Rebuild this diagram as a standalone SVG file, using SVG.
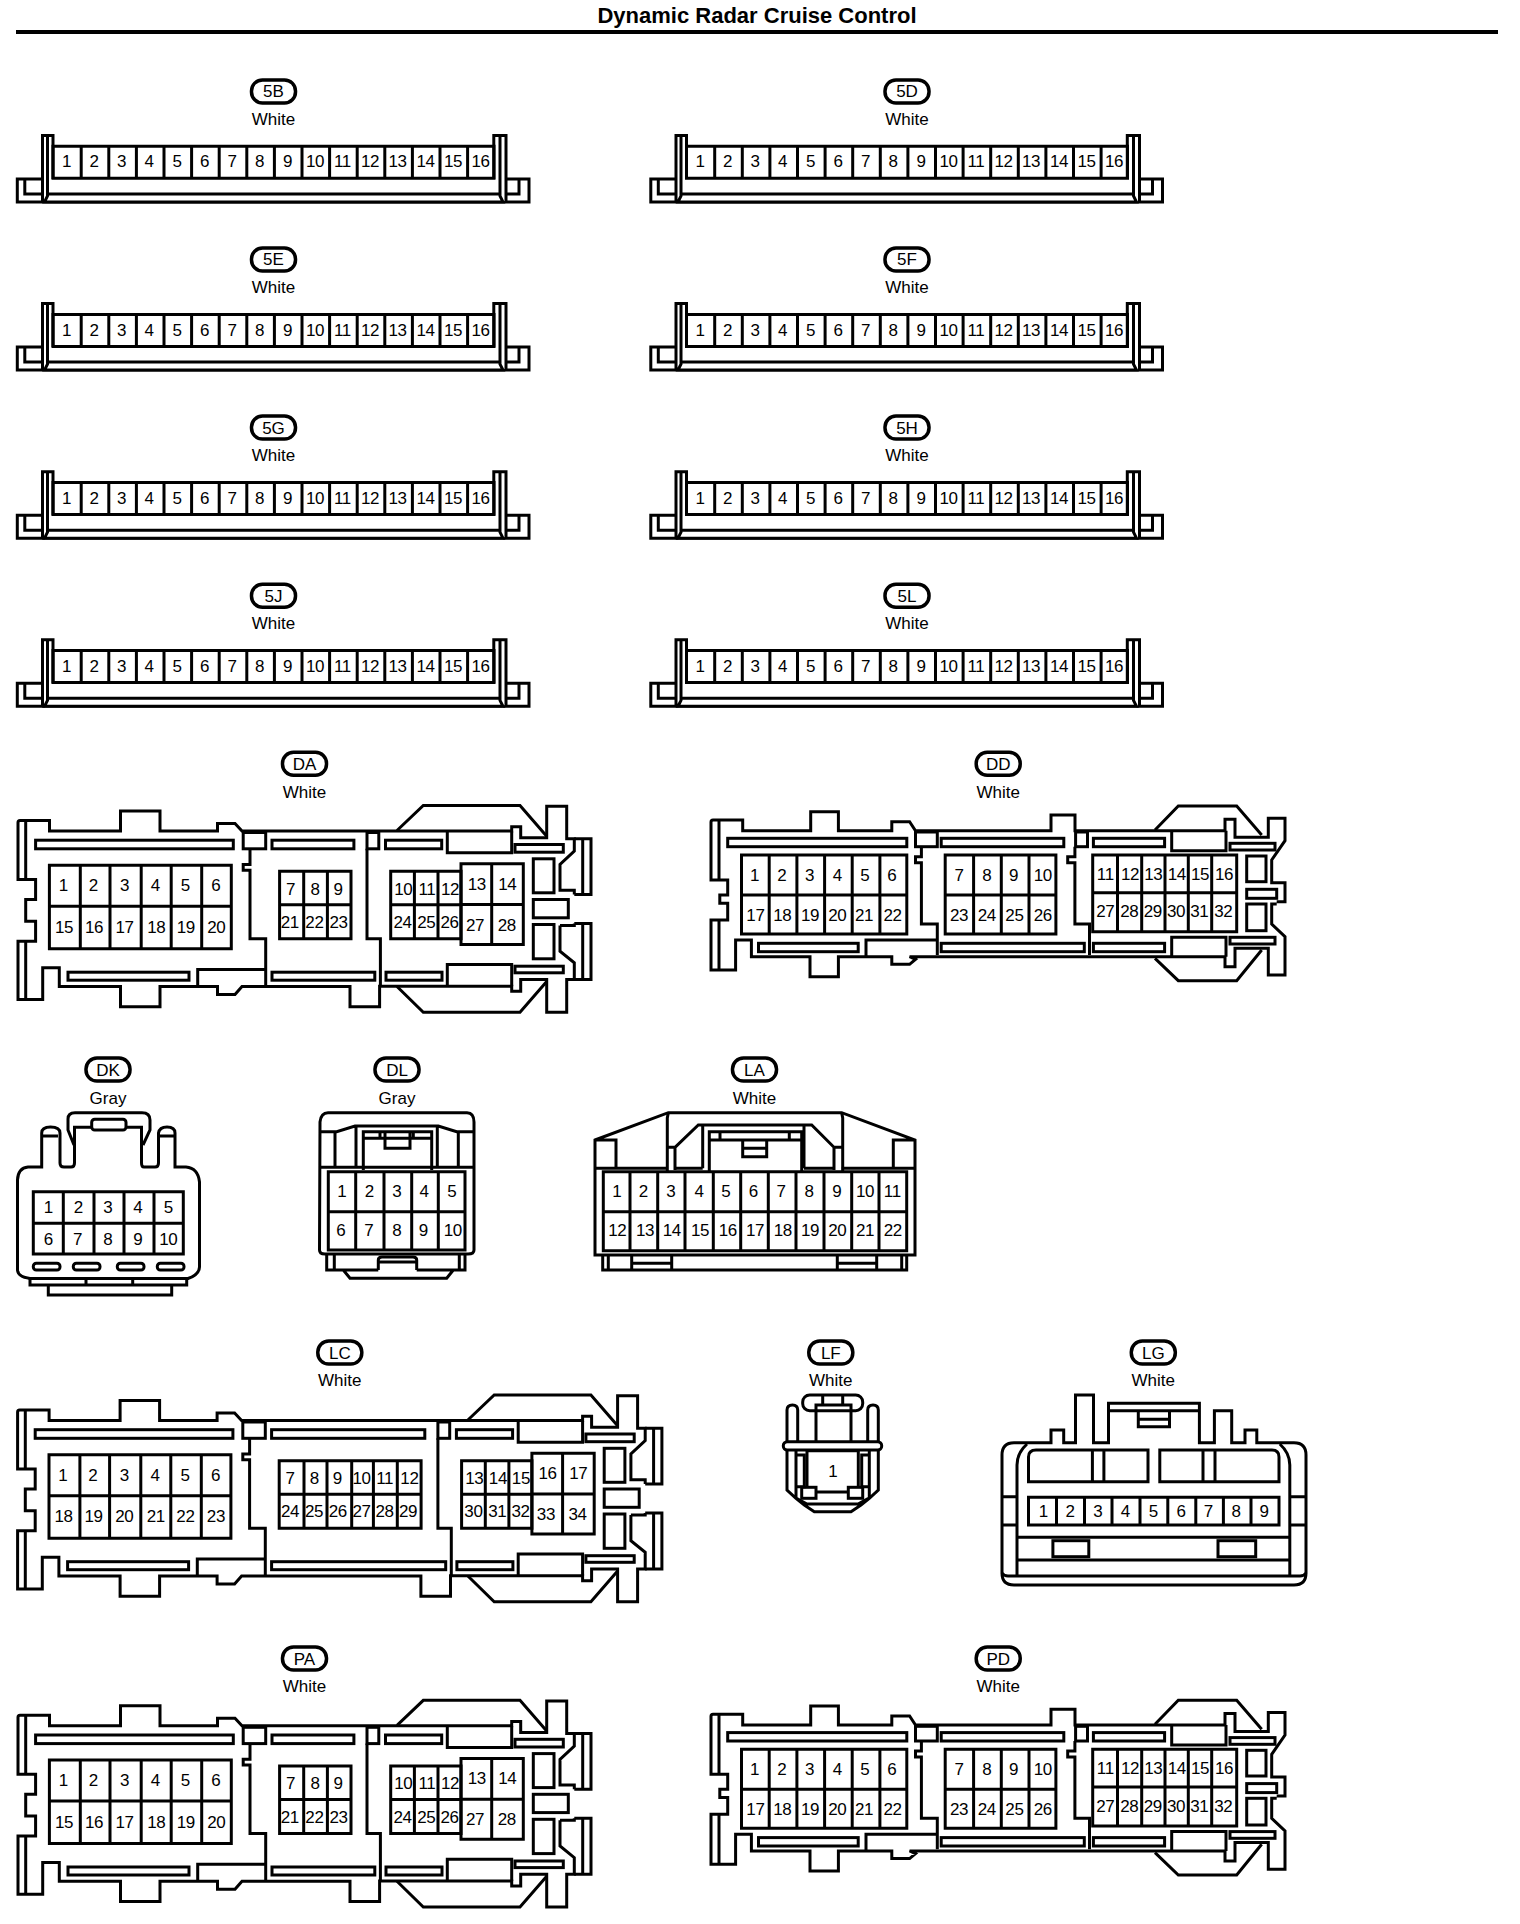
<svg xmlns="http://www.w3.org/2000/svg" width="1520" height="1924" viewBox="0 0 1520 1924">
<style>
text{font-family:"Liberation Sans",Arial,sans-serif;fill:#000}
.n{font-size:17px;letter-spacing:-.4px;text-anchor:middle}
.w{font-size:17px;text-anchor:middle}
.t{font-size:22px;font-weight:bold;text-anchor:middle}
.l{font-size:17px;text-anchor:middle}
.s{fill:none;stroke:#000;stroke-width:3}
.p{fill:#fff;stroke:#000;stroke-width:3.5}
</style>
<defs>
<rect id="pill" x="-22" y="-11.5" width="44" height="23" rx="11" class="p"/>
<g id="c16">
<path class="s" d="M17.3 178H529V201H17.3ZM24.8 178V193H42M46 193H500M505 193H519V178"/>
<path d="M42.5 134.5H53V178H493.8V134.5H506V198L503 202H45L42.5 198Z" fill="#fff" stroke="none"/>
<path class="s" d="M42.5 201V134.5H53V178M47.5 134.5V195L44.5 201H503L500 195V134.5M493.8 178V134.5H506V201M46 193H500"/>
<path class="s" d="M53 145.3H494V177.3H53ZM81.2 145V178M108.8 145V178M136.4 145V178M164 145V178M191.6 145V178M219.2 145V178M246.8 145V178M274.4 145V178M302 145V178M329.6 145V178M357.2 145V178M384.8 145V178M412.4 145V178M440 145V178M467.6 145V178"/>
</g>
<g id="da" class="s">
<path d="M18 823Q18 821 20 821H49.5V831.5H120.5V811.5H160V831.5H217.5V824H235L242 831.5H511.7V827.3H520.7V838.3H546.7V806.7H566.7V839.3H574.3V851.7L560 865V890.7H574.3V895M560 926H574.3V924M560 926V951.7L574.3 963.3V980H566.7V1012.7H546.7V980H520.7V991.7H511.7V986.7H379.6V1007.3H350V987H242L235 995H217.5V987H160V1007.3H120.5V987H59.3V968.3H42.7V1000H18V941.7H35.6V921.7H25.7V900H35.6V880H18V823"/>
<path d="M574.3 839.3H591V895H574.3M582.7 839.3V895M574.3 924H591V980H574.3M582.7 924V980M397 831L423.3 806H520L546.7 836.7M397 987L423.3 1012.7H520L546.7 982M25.7 821V880M25.7 941.7V1000"/>
<path d="M250 849.3V865H243.2V870.7H250V939.3H265.7V987M367 849.3V939.3H380.4V987M197.7 987V970H265.7M447.3 832V853.3H511.7V832M447.3 986.7V965H511.7V986.7"/>
<rect x="243.2" y="833" width="22.5" height="16.3"/><rect x="367" y="833" width="11.8" height="16.3"/>
<rect x="35.6" y="840.7" width="197.7" height="8.6"/><rect x="272" y="840.7" width="81.9" height="8.6"/><rect x="385.5" y="840.7" width="56.2" height="8.6"/>
<rect x="68" y="972.7" width="121" height="8"/><rect x="272" y="972.7" width="102.8" height="8"/><rect x="386" y="972.7" width="56" height="8"/>
<rect x="515" y="845" width="48.3" height="7.7"/><rect x="515" y="966.7" width="48.3" height="6.6"/>
<rect x="533.3" y="859.3" width="20.7" height="34"/><rect x="533.3" y="900" width="35" height="18.3"/><rect x="533.3" y="925" width="20.7" height="34.3"/>
<path d="M49.4 865.7H231.3V949.3H49.4ZM49.4 906.7H231.3M80.3 865.7V949.3M110 865.7V949.3M141.2 865.7V949.3M171.2 865.7V949.3M201.7 865.7V949.3"/>
<path d="M279.6 871.7H351V939.3H279.6ZM279.6 905.3H351M303.7 871.7V939.3M327.4 871.7V939.3"/>
<path d="M390.7 871.7H461V939.3H390.7ZM390.7 905.3H461M414.4 871.7V939.3M438 871.7V939.3"/>
<path d="M461 864.3H523.3V945H461ZM461 905H523.3M491.7 864.3V945"/>
</g>
<g id="dd" class="s">
<path d="M711 822Q711 820 713 820H742.7V830.7H810.7V811.7H838.4V830.7H891.8V821.7H909.6L915.5 830.7H1051V815H1075V830.7H1225V819.3H1235V837.3H1268.3V818.3H1285V840.7L1271.7 860V882.7H1285V901.7H1276.7M1276.7 904H1271.7V924L1285 936.7V975H1268.3V948.3H1235V966.7H1225V956.7H909.6L915.5 959.3L909.6 964.3H891.8V956.7H838.4V976.7H810V956.7H751.4V940H735.6V970H711V920H727.7V903.3H719.8V895H727.7V880H711V822"/>
<path d="M719 820V880M719 920V970M1155 830L1178.3 806H1236.7L1261.7 835M1155 958.3L1178.3 980.7H1236.7L1261.7 950"/>
<rect x="915.5" y="832" width="21.8" height="14.7"/><rect x="1075.6" y="832" width="11.9" height="14.7"/>
<path d="M921.4 847V856.7H915.5V862.7H921.4V924H937.3V955M1074.9 846.7V856.7H1067.7V862.7H1074.9V924H1089.5V955M866 956V940H937.3M1171.7 830.7V850.7H1226V830.7M1171.7 956.7V937.3H1226V956.7"/>
<rect x="727.7" y="838.3" width="179.1" height="8.4"/><rect x="941.2" y="838.3" width="122.6" height="8.4"/><rect x="1093.4" y="838.3" width="71.2" height="8.4"/>
<rect x="758.5" y="943.3" width="99.7" height="8.4"/><rect x="941.2" y="943.3" width="143.1" height="8.4"/><rect x="1093.4" y="943.3" width="71.2" height="8.4"/>
<rect x="1230" y="843.3" width="45" height="6.7"/><rect x="1230" y="937.3" width="45" height="6.7"/>
<rect x="1246.7" y="856" width="19.3" height="25.7"/><rect x="1246.7" y="889.3" width="30" height="9"/><rect x="1246.7" y="904" width="19.3" height="26.7"/>
<path d="M741.5 855H906.8V934H741.5ZM741.5 895H906.8M769.2 855V934M796.9 855V934M824.6 855V934M852.2 855V934M879.9 855V934"/>
<path d="M945.2 855H1055.9V934H945.2ZM945.2 895H1055.9M973.6 855V934M1001.3 855V934M1029 855V934"/>
<path d="M1092.7 855H1236.7V931.7H1092.7ZM1092.7 892.7H1236.7M1117.5 855V931.7M1141.7 855V931.7M1165 855V931.7M1188.3 855V931.7M1211.7 855V931.7"/>
</g>
</defs>
<g id="title"><text class="t" x="757" y="23">Dynamic Radar Cruise Control</text><rect x="16" y="30" width="1482" height="4"/></g>

<g id="c5B"><use href="#pill" x="273.5" y="91.4"/><text class="l" x="273.5" y="97.4">5B</text><text class="w" x="273.5" y="125">White</text><use href="#c16" y="1"/><g transform="translate(-1,-.6)"><text class="n" x="67.5" y="168">1</text><text class="n" x="95" y="168">2</text><text class="n" x="122.5" y="168">3</text><text class="n" x="150" y="168">4</text><text class="n" x="178" y="168">5</text><text class="n" x="205.5" y="168">6</text><text class="n" x="233" y="168">7</text><text class="n" x="260.5" y="168">8</text><text class="n" x="288.5" y="168">9</text><text class="n" x="316" y="168">10</text><text class="n" x="343.5" y="168">11</text><text class="n" x="371" y="168">12</text><text class="n" x="398.5" y="168">13</text><text class="n" x="426.5" y="168">14</text><text class="n" x="454" y="168">15</text><text class="n" x="481.5" y="168">16</text></g></g>
<g id="c5D" transform="translate(633.5,0)"><use href="#pill" x="273.5" y="91.4"/><text class="l" x="273.5" y="97.4">5D</text><text class="w" x="273.5" y="125">White</text><use href="#c16" y="1"/><g transform="translate(-1,-.6)"><text class="n" x="67.5" y="168">1</text><text class="n" x="95" y="168">2</text><text class="n" x="122.5" y="168">3</text><text class="n" x="150" y="168">4</text><text class="n" x="178" y="168">5</text><text class="n" x="205.5" y="168">6</text><text class="n" x="233" y="168">7</text><text class="n" x="260.5" y="168">8</text><text class="n" x="288.5" y="168">9</text><text class="n" x="316" y="168">10</text><text class="n" x="343.5" y="168">11</text><text class="n" x="371" y="168">12</text><text class="n" x="398.5" y="168">13</text><text class="n" x="426.5" y="168">14</text><text class="n" x="454" y="168">15</text><text class="n" x="481.5" y="168">16</text></g></g>
<g id="c5E" transform="translate(0,168.1)"><use href="#pill" x="273.5" y="91.4"/><text class="l" x="273.5" y="97.4">5E</text><text class="w" x="273.5" y="125">White</text><use href="#c16" y="1"/><g transform="translate(-1,-.6)"><text class="n" x="67.5" y="168">1</text><text class="n" x="95" y="168">2</text><text class="n" x="122.5" y="168">3</text><text class="n" x="150" y="168">4</text><text class="n" x="178" y="168">5</text><text class="n" x="205.5" y="168">6</text><text class="n" x="233" y="168">7</text><text class="n" x="260.5" y="168">8</text><text class="n" x="288.5" y="168">9</text><text class="n" x="316" y="168">10</text><text class="n" x="343.5" y="168">11</text><text class="n" x="371" y="168">12</text><text class="n" x="398.5" y="168">13</text><text class="n" x="426.5" y="168">14</text><text class="n" x="454" y="168">15</text><text class="n" x="481.5" y="168">16</text></g></g>
<g id="c5F" transform="translate(633.5,168.1)"><use href="#pill" x="273.5" y="91.4"/><text class="l" x="273.5" y="97.4">5F</text><text class="w" x="273.5" y="125">White</text><use href="#c16" y="1"/><g transform="translate(-1,-.6)"><text class="n" x="67.5" y="168">1</text><text class="n" x="95" y="168">2</text><text class="n" x="122.5" y="168">3</text><text class="n" x="150" y="168">4</text><text class="n" x="178" y="168">5</text><text class="n" x="205.5" y="168">6</text><text class="n" x="233" y="168">7</text><text class="n" x="260.5" y="168">8</text><text class="n" x="288.5" y="168">9</text><text class="n" x="316" y="168">10</text><text class="n" x="343.5" y="168">11</text><text class="n" x="371" y="168">12</text><text class="n" x="398.5" y="168">13</text><text class="n" x="426.5" y="168">14</text><text class="n" x="454" y="168">15</text><text class="n" x="481.5" y="168">16</text></g></g>
<g id="c5G" transform="translate(0,336.2)"><use href="#pill" x="273.5" y="91.4"/><text class="l" x="273.5" y="97.4">5G</text><text class="w" x="273.5" y="125">White</text><use href="#c16" y="1"/><g transform="translate(-1,-.6)"><text class="n" x="67.5" y="168">1</text><text class="n" x="95" y="168">2</text><text class="n" x="122.5" y="168">3</text><text class="n" x="150" y="168">4</text><text class="n" x="178" y="168">5</text><text class="n" x="205.5" y="168">6</text><text class="n" x="233" y="168">7</text><text class="n" x="260.5" y="168">8</text><text class="n" x="288.5" y="168">9</text><text class="n" x="316" y="168">10</text><text class="n" x="343.5" y="168">11</text><text class="n" x="371" y="168">12</text><text class="n" x="398.5" y="168">13</text><text class="n" x="426.5" y="168">14</text><text class="n" x="454" y="168">15</text><text class="n" x="481.5" y="168">16</text></g></g>
<g id="c5H" transform="translate(633.5,336.2)"><use href="#pill" x="273.5" y="91.4"/><text class="l" x="273.5" y="97.4">5H</text><text class="w" x="273.5" y="125">White</text><use href="#c16" y="1"/><g transform="translate(-1,-.6)"><text class="n" x="67.5" y="168">1</text><text class="n" x="95" y="168">2</text><text class="n" x="122.5" y="168">3</text><text class="n" x="150" y="168">4</text><text class="n" x="178" y="168">5</text><text class="n" x="205.5" y="168">6</text><text class="n" x="233" y="168">7</text><text class="n" x="260.5" y="168">8</text><text class="n" x="288.5" y="168">9</text><text class="n" x="316" y="168">10</text><text class="n" x="343.5" y="168">11</text><text class="n" x="371" y="168">12</text><text class="n" x="398.5" y="168">13</text><text class="n" x="426.5" y="168">14</text><text class="n" x="454" y="168">15</text><text class="n" x="481.5" y="168">16</text></g></g>
<g id="c5J" transform="translate(0,504.3)"><use href="#pill" x="273.5" y="91.4"/><text class="l" x="273.5" y="97.4">5J</text><text class="w" x="273.5" y="125">White</text><use href="#c16" y="1"/><g transform="translate(-1,-.6)"><text class="n" x="67.5" y="168">1</text><text class="n" x="95" y="168">2</text><text class="n" x="122.5" y="168">3</text><text class="n" x="150" y="168">4</text><text class="n" x="178" y="168">5</text><text class="n" x="205.5" y="168">6</text><text class="n" x="233" y="168">7</text><text class="n" x="260.5" y="168">8</text><text class="n" x="288.5" y="168">9</text><text class="n" x="316" y="168">10</text><text class="n" x="343.5" y="168">11</text><text class="n" x="371" y="168">12</text><text class="n" x="398.5" y="168">13</text><text class="n" x="426.5" y="168">14</text><text class="n" x="454" y="168">15</text><text class="n" x="481.5" y="168">16</text></g></g>
<g id="c5L" transform="translate(633.5,504.3)"><use href="#pill" x="273.5" y="91.4"/><text class="l" x="273.5" y="97.4">5L</text><text class="w" x="273.5" y="125">White</text><use href="#c16" y="1"/><g transform="translate(-1,-.6)"><text class="n" x="67.5" y="168">1</text><text class="n" x="95" y="168">2</text><text class="n" x="122.5" y="168">3</text><text class="n" x="150" y="168">4</text><text class="n" x="178" y="168">5</text><text class="n" x="205.5" y="168">6</text><text class="n" x="233" y="168">7</text><text class="n" x="260.5" y="168">8</text><text class="n" x="288.5" y="168">9</text><text class="n" x="316" y="168">10</text><text class="n" x="343.5" y="168">11</text><text class="n" x="371" y="168">12</text><text class="n" x="398.5" y="168">13</text><text class="n" x="426.5" y="168">14</text><text class="n" x="454" y="168">15</text><text class="n" x="481.5" y="168">16</text></g></g>

<g id="cDA"><use href="#pill" x="304.5" y="763.7"/><text class="l" x="304.5" y="769.7">DA</text><text class="w" x="304.5" y="797.5">White</text>
<g transform="translate(0,-.5)"><use href="#da"/>
<text class="n" x="63.3" y="891.7">1</text><text class="n" x="93.3" y="891.7">2</text><text class="n" x="124.6" y="891.7">3</text><text class="n" x="155.4" y="891.7">4</text><text class="n" x="185.4" y="891.7">5</text><text class="n" x="215.9" y="891.7">6</text>
<text class="n" x="64" y="933.3">15</text><text class="n" x="94" y="933.3">16</text><text class="n" x="124.6" y="933.3">17</text><text class="n" x="156.2" y="933.3">18</text><text class="n" x="185.8" y="933.3">19</text><text class="n" x="216.3" y="933.3">20</text>
<text class="n" x="290.6" y="895">7</text><text class="n" x="315.1" y="895">8</text><text class="n" x="338" y="895">9</text><text class="n" x="289.8" y="928.3">21</text><text class="n" x="314.4" y="928.3">22</text><text class="n" x="338.5" y="928.3">23</text>
<text class="n" x="403.3" y="895">10</text><text class="n" x="427" y="895">11</text><text class="n" x="450" y="895">12</text><text class="n" x="402.5" y="928.3">24</text><text class="n" x="426.3" y="928.3">25</text><text class="n" x="449.6" y="928.3">26</text>
<text class="n" x="476.7" y="890">13</text><text class="n" x="507.3" y="890">14</text><text class="n" x="475" y="931">27</text><text class="n" x="506.7" y="931">28</text></g></g>

<g id="cDD"><use href="#pill" x="998.2" y="763.7"/><text class="l" x="998.2" y="769.7">DD</text><text class="w" x="998.2" y="797.5">White</text>
<g><use href="#dd"/>
<text class="n" x="754.6" y="880.7">1</text><text class="n" x="781.8" y="880.7">2</text><text class="n" x="809.5" y="880.7">3</text><text class="n" x="837.2" y="880.7">4</text><text class="n" x="864.9" y="880.7">5</text><text class="n" x="891.8" y="880.7">6</text>
<text class="n" x="755.4" y="920.7">17</text><text class="n" x="782.2" y="920.7">18</text><text class="n" x="810" y="920.7">19</text><text class="n" x="837.2" y="920.7">20</text><text class="n" x="864.1" y="920.7">21</text><text class="n" x="892.6" y="920.7">22</text>
<text class="n" x="959" y="880.7">7</text><text class="n" x="986.7" y="880.7">8</text><text class="n" x="1013.6" y="880.7">9</text><text class="n" x="1042.8" y="880.7">10</text><text class="n" x="959" y="920.7">23</text><text class="n" x="986.7" y="920.7">24</text><text class="n" x="1014.4" y="920.7">25</text><text class="n" x="1042.8" y="920.7">26</text>
<text class="n" x="1105.3" y="880">11</text><text class="n" x="1130" y="880">12</text><text class="n" x="1153.3" y="880">13</text><text class="n" x="1176.7" y="880">14</text><text class="n" x="1200" y="880">15</text><text class="n" x="1224" y="880">16</text>
<text class="n" x="1105.3" y="917.3">27</text><text class="n" x="1129.3" y="917.3">28</text><text class="n" x="1152.7" y="917.3">29</text><text class="n" x="1176" y="917.3">30</text><text class="n" x="1199.3" y="917.3">31</text><text class="n" x="1223.3" y="917.3">32</text></g></g>

<g id="cDK"><use href="#pill" x="108" y="1069.6"/><text class="l" x="108" y="1075.6">DK</text><text class="w" x="108" y="1103.8">Gray</text>
<g class="s">
<path d="M41.7 1167H28Q18 1168 17.5 1180V1270Q18 1277 30 1278.5H188Q199 1275 199.5 1267V1182Q198 1168 186 1167H175V1133Q175 1127 167 1127Q159.5 1127 158.5 1133V1163Q158.5 1167 155 1167H144Q141.5 1167 141.5 1163V1127.3H74.5V1163Q74.5 1167 71 1167H64Q60 1167 60 1163V1133Q60 1127 50.5 1127Q41.7 1127 41.7 1133Z"/>
<path d="M74 1145L68 1130V1119Q68 1112.7 75 1112.7H142Q150 1112.7 150 1120V1130L143 1145M43 1136H58M159.3 1136H174.3"/>
<rect x="91.7" y="1119.3" width="34.3" height="10.7" rx="3" fill="#fff"/>
<path d="M33.3 1191.7H183.3V1254H33.3ZM33.3 1223.3H183.3M63.3 1191.7V1254M94 1191.7V1254M124 1191.7V1254M154 1191.7V1254"/>
<rect x="33.3" y="1263.3" width="26.7" height="6.7" rx="3"/><rect x="73.3" y="1263.3" width="26.7" height="6.7" rx="3"/><rect x="117.3" y="1263.3" width="26.7" height="6.7" rx="3"/><rect x="157.3" y="1263.3" width="26.7" height="6.7" rx="3"/>
<path d="M30 1278.5V1285H48.3V1295H171.7V1285H186.7V1278.5M48.3 1285H171.7M86 1279V1285M132.7 1279V1285"/>
</g>
<text class="n" x="48.3" y="1213.3">1</text><text class="n" x="78.3" y="1213.3">2</text><text class="n" x="107.7" y="1213.3">3</text><text class="n" x="137.7" y="1213.3">4</text><text class="n" x="168.3" y="1213.3">5</text><text class="n" x="48.3" y="1245">6</text><text class="n" x="77.5" y="1245">7</text><text class="n" x="107.7" y="1245">8</text><text class="n" x="137.7" y="1245">9</text><text class="n" x="168.3" y="1245">10</text></g>

<g id="cDL"><use href="#pill" x="397" y="1069.6"/><text class="l" x="397" y="1075.6">DL</text><text class="w" x="397" y="1103.8">Gray</text>
<g class="s">
<path d="M320 1122Q321 1112.7 328 1112.7H467Q474 1113 474 1122V1250Q474 1254 468 1254H325Q319.5 1254 319.5 1250ZM319.5 1167.3H474M320 1131.7H336.7L355 1126H438.3L456.7 1131.7H473.3M335 1131.7V1167.3M458.3 1131.7V1167.3M356 1126V1167.3M437.3 1126V1167.3"/>
<path d="M363.3 1170V1131.7H431.7V1170M363.3 1138.3H431.7M385 1131.7V1148.3H410V1131.7M380 1132V1138M413.3 1132V1138"/>
<path d="M328.3 1171.7H465V1250H328.3ZM328.3 1211.7H465M355.7 1171.7V1250M384 1171.7V1250M411.7 1171.7V1250M438.3 1171.7V1250"/>
<path d="M326.7 1254V1270H343.3L350 1278.3H446.7L453.3 1270H465V1254M334.3 1254V1270M459.3 1254V1270M343.3 1270H378.3M416.7 1270H453.3M378.3 1270V1260Q378.3 1257 382 1257H413Q416.7 1257 416.7 1260V1270M378.3 1262H416.7"/>
</g>
<text class="n" x="341.7" y="1196.7">1</text><text class="n" x="369.3" y="1196.7">2</text><text class="n" x="396.7" y="1196.7">3</text><text class="n" x="424" y="1196.7">4</text><text class="n" x="451.7" y="1196.7">5</text><text class="n" x="340.7" y="1236">6</text><text class="n" x="368.7" y="1236">7</text><text class="n" x="396.7" y="1236">8</text><text class="n" x="423.3" y="1236">9</text><text class="n" x="452.7" y="1236">10</text></g>

<g id="cLA"><use href="#pill" x="754.5" y="1069.6"/><text class="l" x="754.5" y="1075.6">LA</text><text class="w" x="754.5" y="1103.8">White</text>
<g class="s">
<path d="M595 1140L668.3 1112.7H841.7L915 1140V1255H595ZM595 1140H616V1168.3M915 1140H893.3V1168.3M595 1168.3H667.3M675 1168.3H702.7M804 1168.3H834M841.7 1168.3H915"/>
<path d="M668.3 1112.7L667.3 1118V1171.7M841.7 1112.7L842.7 1118V1171.7M667.3 1147.3H675V1170M675 1147.3L698.3 1125H811.7L834 1147.3V1170M834 1147.3H842.7M702.7 1125V1168.3M804 1125V1168.3"/>
<path d="M709.3 1171.7V1131.7H801.7V1171.7M709.3 1140H801.7M720 1132V1140M789.3 1132V1140M742.7 1140V1156.7H766.7V1140M742.7 1148.3H766.7"/>
<path d="M603.3 1171.7H906.7V1250.7H603.3ZM603.3 1211.7H906.7M630 1171.7V1250.7M657.7 1171.7V1250.7M685 1171.7V1250.7M713.3 1171.7V1250.7M740.7 1171.7V1250.7M768.3 1171.7V1250.7M796 1171.7V1250.7M824 1171.7V1250.7M851.7 1171.7V1250.7M879 1171.7V1250.7"/>
<path d="M602.7 1255V1270H906.7V1255M608.3 1255V1270M901.7 1255V1270M631.7 1255V1270M671.7 1255V1270M837.3 1255V1270M876.7 1255V1270M631.7 1263.3H671.7M837.3 1263.3H876.7"/>
</g>
<text class="n" x="616.7" y="1196.7">1</text><text class="n" x="643.3" y="1196.7">2</text><text class="n" x="670.7" y="1196.7">3</text><text class="n" x="699" y="1196.7">4</text><text class="n" x="725.7" y="1196.7">5</text><text class="n" x="753.3" y="1196.7">6</text><text class="n" x="781" y="1196.7">7</text><text class="n" x="809" y="1196.7">8</text><text class="n" x="836.7" y="1196.7">9</text><text class="n" x="865" y="1196.7">10</text><text class="n" x="892.3" y="1196.7">11</text>
<text class="n" x="617.3" y="1236">12</text><text class="n" x="645" y="1236">13</text><text class="n" x="671.7" y="1236">14</text><text class="n" x="700" y="1236">15</text><text class="n" x="727.7" y="1236">16</text><text class="n" x="755" y="1236">17</text><text class="n" x="782.7" y="1236">18</text><text class="n" x="810" y="1236">19</text><text class="n" x="837.3" y="1236">20</text><text class="n" x="865" y="1236">21</text><text class="n" x="892.7" y="1236">22</text></g>

<g id="cLC"><use href="#pill" x="339.8" y="1352.6"/><text class="l" x="339.8" y="1358.6">LC</text><text class="w" x="339.8" y="1386.3">White</text>
<g transform="translate(-.4,589)">
<g class="s">
<path d="M18 823Q18 821 20 821H49.5V831.5H120.5V811.5H160V831.5H217.5V824H235L242 831.5H583V827.3H592V838.3H618V806.7H638V839.3H645.6V851.7L631.3 865V890.7H645.6V895M631.3 926H645.6V924M631.3 926V951.7L645.6 963.3V980H638V1012.7H618V980H592V991.7H583V986.7H450.9V1007.3H421.3V987H242L235 995H217.5V987H160V1007.3H120.5V987H59.3V968.3H42.7V1000H18V941.7H35.6V921.7H25.7V900H35.6V880H18V823"/>
<path d="M645.6 839.3H662.3V895H645.6M654 839.3V895M645.6 924H662.3V980H645.6M654 924V980M468.3 831L494.6 806H591.3L618 836.7M468.3 987L494.6 1012.7H591.3L618 982M25.7 821V880M25.7 941.7V1000"/>
<path d="M250 849.3V865H243.2V870.7H250V939.3H265.7V987M438.3 849.3V939.3H451.7V987M197.7 987V970H265.7M518.6 832V853.3H583V832M518.6 986.7V965H583V986.7"/>
<rect x="243.2" y="833" width="22.5" height="16.3"/><rect x="438.3" y="833" width="11.8" height="16.3"/>
<rect x="35.6" y="840.7" width="197.7" height="8.6"/><rect x="272" y="840.7" width="153.2" height="8.6"/><rect x="456.8" y="840.7" width="56.2" height="8.6"/>
<rect x="68" y="972.7" width="121" height="8"/><rect x="272" y="972.7" width="174.1" height="8"/><rect x="457.3" y="972.7" width="56" height="8"/>
<rect x="586.3" y="845" width="48.3" height="7.7"/><rect x="586.3" y="966.7" width="48.3" height="6.6"/>
<rect x="604.6" y="859.3" width="20.7" height="34"/><rect x="604.6" y="900" width="35" height="18.3"/><rect x="604.6" y="925" width="20.7" height="34.3"/>
<path d="M49.4 865.7H231.3V949.3H49.4ZM49.4 906.7H231.3M80.3 865.7V949.3M110 865.7V949.3M141.2 865.7V949.3M171.2 865.7V949.3M201.7 865.7V949.3"/>
<path d="M279.6 871.7H421.5V939.3H279.6ZM279.6 905.3H421.5M304.4 871.7V939.3M327.4 871.7V939.3M352.1 871.7V939.3M373.8 871.7V939.3M397.7 871.7V939.3"/>
<path d="M462 871.7H532.3V939.3H462ZM462 905.3H532.3M485.7 871.7V939.3M509.3 871.7V939.3"/>
<path d="M532.3 864.3H594.6V945H532.3ZM532.3 905H594.6M563 864.3V945"/>
</g>
<text class="n" x="63.3" y="891.7">1</text><text class="n" x="93.3" y="891.7">2</text><text class="n" x="124.6" y="891.7">3</text><text class="n" x="155.4" y="891.7">4</text><text class="n" x="185.4" y="891.7">5</text><text class="n" x="215.9" y="891.7">6</text>
<text class="n" x="64" y="933.3">18</text><text class="n" x="94" y="933.3">19</text><text class="n" x="124.6" y="933.3">20</text><text class="n" x="156.2" y="933.3">21</text><text class="n" x="185.8" y="933.3">22</text><text class="n" x="216.3" y="933.3">23</text>
<text class="n" x="290.5" y="895">7</text><text class="n" x="314.8" y="895">8</text><text class="n" x="337.8" y="895">9</text><text class="n" x="362" y="895">10</text><text class="n" x="385" y="895">11</text><text class="n" x="409.8" y="895">12</text>
<text class="n" x="290.5" y="928.3">24</text><text class="n" x="314.4" y="928.3">25</text><text class="n" x="338.2" y="928.3">26</text><text class="n" x="362" y="928.3">27</text><text class="n" x="385" y="928.3">28</text><text class="n" x="408.5" y="928.3">29</text>
<text class="n" x="474.6" y="895">13</text><text class="n" x="498.3" y="895">14</text><text class="n" x="521.3" y="895">15</text><text class="n" x="473.8" y="928.3">30</text><text class="n" x="497.6" y="928.3">31</text><text class="n" x="520.9" y="928.3">32</text>
<text class="n" x="548" y="890">16</text><text class="n" x="578.6" y="890">17</text><text class="n" x="546.3" y="931">33</text><text class="n" x="578" y="931">34</text>
</g></g>

<g id="cLF"><use href="#pill" x="830.8" y="1352.6"/><text class="l" x="830.8" y="1358.6">LF</text><text class="w" x="830.8" y="1386.3">White</text>
<g transform="translate(1,0)">
<g class="s">
<rect x="801.7" y="1395" width="60" height="15.7" rx="7"/>
<path d="M821.7 1395V1405M841.7 1395V1405M815 1441.7V1405H850V1441.7M786 1441.7V1410Q786 1405 791.5 1405Q796.7 1405 796.7 1410V1441.7M866.7 1441.7V1410Q866.7 1405 872 1405Q877.3 1405 877.3 1410V1441.7"/>
<rect x="782.3" y="1441.7" width="98.4" height="8.3" rx="4"/>
<path d="M786 1450V1490L795 1498.3L803.3 1505L813.3 1511.7H850L860 1505L868.3 1498.3L877.3 1490V1450M795 1450V1498M868.3 1450V1498M795 1455H803.3V1486.7H795M869 1455H860.7V1486.7H869M795 1498L806 1504H857L868 1498"/>
<path d="M806 1487.3V1450.7H857.3V1487.3M815 1492H847.3"/>
<rect x="800.7" y="1487.3" width="14.3" height="11"/><rect x="847.3" y="1487.3" width="14.4" height="11"/>
</g>
<text class="n" x="831.7" y="1477.3">1</text></g></g>

<g id="cLG"><use href="#pill" x="1153.3" y="1352.6"/><text class="l" x="1153.3" y="1358.6">LG</text><text class="w" x="1153.3" y="1386.3">White</text>
<g transform="translate(-4,-5)">
<g class="s">
<path d="M1006 1460Q1006 1447.7 1018 1447.7H1055V1435H1067.7V1447.7H1079.5V1400H1097.5V1447.7H1112.5V1408.3H1203.4V1447.7H1218.4V1415.7H1235.7V1447.7H1249V1435H1260.8V1447.7H1298Q1310 1447.7 1310 1460V1578Q1310 1590 1298 1590H1018Q1006 1590 1006 1578Z"/>
<path d="M1112.5 1415.7H1203.4M1142.3 1416.7V1431.7H1173.5V1416.7M1142.3 1424.3H1173.5M1031 1449Q1021 1458 1021 1470V1581M1283.8 1449Q1293.8 1458 1293.8 1470V1581M1006 1578Q1008 1581 1012 1581H1304Q1308 1581 1310 1578"/>
<path d="M1032.5 1486.7V1462Q1032.5 1455 1040 1455H1152V1486.7ZM1096.4 1455V1486.7M1107.9 1455V1486.7M1163.8 1455H1276Q1283 1455 1283 1462V1486.7H1163.8ZM1207 1455V1486.7M1219 1455V1486.7"/>
<path d="M1006 1501.7H1021M1006 1530H1021M1293.8 1501.7H1310M1293.8 1530H1310"/>
<path d="M1032.5 1502.3H1283V1530H1032.5ZM1060.5 1502.3V1530M1088.5 1502.3V1530M1116 1502.3V1530M1144 1502.3V1530M1171.8 1502.3V1530M1199.8 1502.3V1530M1227.4 1502.3V1530M1255 1502.3V1530"/>
<path d="M1021 1542.3H1293.8M1021 1565H1293.8"/>
<rect x="1056.9" y="1545.7" width="35.9" height="16"/><rect x="1222" y="1545.7" width="37.7" height="16"/>
</g>
<text class="n" x="1047.2" y="1521.7">1</text><text class="n" x="1074.1" y="1521.7">2</text><text class="n" x="1101.8" y="1521.7">3</text><text class="n" x="1129.4" y="1521.7">4</text><text class="n" x="1157.4" y="1521.7">5</text><text class="n" x="1185" y="1521.7">6</text><text class="n" x="1212.3" y="1521.7">7</text><text class="n" x="1240" y="1521.7">8</text><text class="n" x="1268" y="1521.7">9</text></g></g>

<g id="cPA"><use href="#pill" x="304.5" y="1658.5"/><text class="l" x="304.5" y="1664.5">PA</text><text class="w" x="304.5" y="1692">White</text>
<g transform="translate(0,894.3)"><use href="#da"/>
<text class="n" x="63.3" y="891.7">1</text><text class="n" x="93.3" y="891.7">2</text><text class="n" x="124.6" y="891.7">3</text><text class="n" x="155.4" y="891.7">4</text><text class="n" x="185.4" y="891.7">5</text><text class="n" x="215.9" y="891.7">6</text>
<text class="n" x="64" y="933.3">15</text><text class="n" x="94" y="933.3">16</text><text class="n" x="124.6" y="933.3">17</text><text class="n" x="156.2" y="933.3">18</text><text class="n" x="185.8" y="933.3">19</text><text class="n" x="216.3" y="933.3">20</text>
<text class="n" x="290.6" y="895">7</text><text class="n" x="315.1" y="895">8</text><text class="n" x="338" y="895">9</text><text class="n" x="289.8" y="928.3">21</text><text class="n" x="314.4" y="928.3">22</text><text class="n" x="338.5" y="928.3">23</text>
<text class="n" x="403.3" y="895">10</text><text class="n" x="427" y="895">11</text><text class="n" x="450" y="895">12</text><text class="n" x="402.5" y="928.3">24</text><text class="n" x="426.3" y="928.3">25</text><text class="n" x="449.6" y="928.3">26</text>
<text class="n" x="476.7" y="890">13</text><text class="n" x="507.3" y="890">14</text><text class="n" x="475" y="931">27</text><text class="n" x="506.7" y="931">28</text></g></g>

<g id="cPD"><use href="#pill" x="998.2" y="1658.5"/><text class="l" x="998.2" y="1664.5">PD</text><text class="w" x="998.2" y="1692">White</text>
<g transform="translate(0,894.3)"><use href="#dd"/>
<text class="n" x="754.6" y="880.7">1</text><text class="n" x="781.8" y="880.7">2</text><text class="n" x="809.5" y="880.7">3</text><text class="n" x="837.2" y="880.7">4</text><text class="n" x="864.9" y="880.7">5</text><text class="n" x="891.8" y="880.7">6</text>
<text class="n" x="755.4" y="920.7">17</text><text class="n" x="782.2" y="920.7">18</text><text class="n" x="810" y="920.7">19</text><text class="n" x="837.2" y="920.7">20</text><text class="n" x="864.1" y="920.7">21</text><text class="n" x="892.6" y="920.7">22</text>
<text class="n" x="959" y="880.7">7</text><text class="n" x="986.7" y="880.7">8</text><text class="n" x="1013.6" y="880.7">9</text><text class="n" x="1042.8" y="880.7">10</text><text class="n" x="959" y="920.7">23</text><text class="n" x="986.7" y="920.7">24</text><text class="n" x="1014.4" y="920.7">25</text><text class="n" x="1042.8" y="920.7">26</text>
<text class="n" x="1105.3" y="880">11</text><text class="n" x="1130" y="880">12</text><text class="n" x="1153.3" y="880">13</text><text class="n" x="1176.7" y="880">14</text><text class="n" x="1200" y="880">15</text><text class="n" x="1224" y="880">16</text>
<text class="n" x="1105.3" y="917.3">27</text><text class="n" x="1129.3" y="917.3">28</text><text class="n" x="1152.7" y="917.3">29</text><text class="n" x="1176" y="917.3">30</text><text class="n" x="1199.3" y="917.3">31</text><text class="n" x="1223.3" y="917.3">32</text></g></g>
</svg>
